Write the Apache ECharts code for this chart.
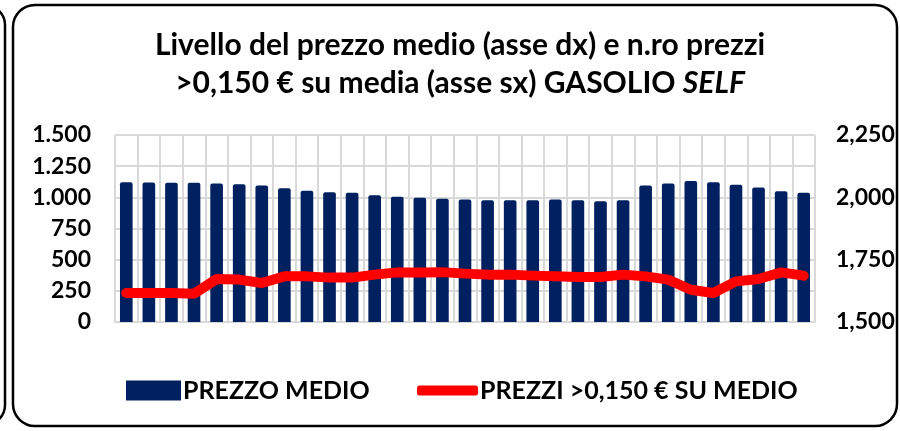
<!DOCTYPE html>
<html>
<head>
<meta charset="utf-8">
<script src="https://cdn.jsdelivr.net/npm/echarts@6/dist/echarts.min.js"></script>
<style>
  html, body { margin: 0; padding: 0; background: #fff; }
  #chart { width: 900px; height: 431px; }
</style>
</head>
<body>
<div id="chart"></div>
<script>
// settimane (nessuna etichetta visibile sull'asse x)
var categories = [];
for (var i = 1; i <= 31; i++) categories.push(String(i));

// prezzo medio gasolio self, €/l (asse dx)
var prezzoMedio = [2.060, 2.059, 2.058, 2.058, 2.055, 2.052, 2.047, 2.036, 2.026, 2.020,
  2.018, 2.008, 2.002, 1.998, 1.994, 1.991, 1.988, 1.988, 1.988, 1.991,
  1.988, 1.984, 1.988, 2.047, 2.055, 2.066, 2.060, 2.050, 2.039, 2.024, 2.018];

// n.ro prezzi > 0,150 € sopra la media (asse sx)
var prezziSopra = [233, 233, 233, 227, 345, 340, 313, 366, 366, 356,
  356, 380, 398, 398, 400, 388, 380, 380, 372, 366,
  361, 361, 380, 366, 340, 259, 233, 326, 345, 398, 372];

var FONT = 'Lato';

var chart = echarts.init(document.getElementById('chart'));

chart.setOption({
  animation: false,
  backgroundColor: '#fff',
  graphic: [
    { // bordo del riquadro accanto
      type: 'rect', shape: { x: -400, y: 5, width: 405, height: 420, r: 20 },
      style: { fill: null, stroke: '#000', lineWidth: 2.5 }
    },
    {
      type: 'rect', shape: { x: 13, y: 5, width: 884, height: 421, r: 22 },
      style: { fill: null, stroke: '#000', lineWidth: 2.5 }
    }
  ],
  title: {
    text: 'Livello del prezzo medio (asse dx) e n.ro prezzi\n>0,150 € su media (asse sx) GASOLIO {i|SELF}',
    left: 460,
    textAlign: 'center',
    top: 26,
    padding: 0,
    textStyle: {
      fontFamily: FONT, fontWeight: 'bold', fontSize: 30, color: '#000', lineHeight: 38,
      rich: { i: { fontFamily: FONT, fontWeight: 'bold', fontStyle: 'italic', fontSize: 30, color: '#000', lineHeight: 38 } }
    }
  },
  legend: [
    {
      data: [{ name: 'PREZZO MEDIO', icon: 'rect' }],
      left: 126, top: 378, padding: 0,
      itemWidth: 55, itemHeight: 20,
      textStyle: { fontFamily: FONT, fontWeight: 'bold', fontSize: 25, color: '#000', padding: [0, 0, 0, -3] }
    },
    {
      data: [{ name: 'PREZZI >0,150 € SU MEDIO', icon: 'roundRect' }],
      left: 417, top: 378, padding: 0,
      itemWidth: 61, itemHeight: 10,
      itemStyle: { borderWidth: 0 },
      textStyle: { fontFamily: FONT, fontWeight: 'bold', fontSize: 25, color: '#000', padding: [0, 0, 0, -3] }
    }
  ],
  grid: { left: 115, right: 85, top: 135, bottom: 109 },
  xAxis: {
    type: 'category',
    data: categories,
    boundaryGap: true,
    axisLine: { show: true, lineStyle: { color: '#D9D9D9', width: 2 } },
    axisTick: { show: false },
    axisLabel: { show: false },
    splitLine: { show: true, interval: 0, lineStyle: { color: '#D9D9D9', width: 2 } }
  },
  yAxis: [
    {
      type: 'value', min: 0, max: 1500, interval: 250,
      axisLine: { show: false }, axisTick: { show: false },
      axisLabel: {
        fontFamily: FONT, fontWeight: 'bold', fontSize: 23, color: '#000', margin: 24,
        formatter: function (v) { return String(v).replace(/\B(?=(\d{3})+(?!\d))/g, '.'); }
      },
      splitLine: { show: true, lineStyle: { color: '#D9D9D9', width: 2 } }
    },
    {
      type: 'value', min: 1.5, max: 2.25, interval: 0.25,
      axisLine: { show: false }, axisTick: { show: false },
      axisLabel: {
        fontFamily: FONT, fontWeight: 'bold', fontSize: 23, color: '#000', margin: 21,
        formatter: function (v) { return v.toFixed(3).replace('.', ','); }
      },
      splitLine: { show: false }
    }
  ],
  series: [
    {
      name: 'PREZZO MEDIO',
      type: 'bar',
      yAxisIndex: 1,
      data: prezzoMedio,
      barWidth: '56%',
      clip: true,
      itemStyle: { color: '#002060', borderRadius: [2, 2, 0, 0] }
    },
    {
      name: 'PREZZI >0,150 € SU MEDIO',
      type: 'line',
      yAxisIndex: 0,
      data: prezziSopra,
      symbol: 'none',
      lineStyle: { color: '#FF0000', width: 10, cap: 'round', join: 'round' },
      itemStyle: { color: '#FF0000' }
    }
  ]
});
</script>
</body>
</html>
